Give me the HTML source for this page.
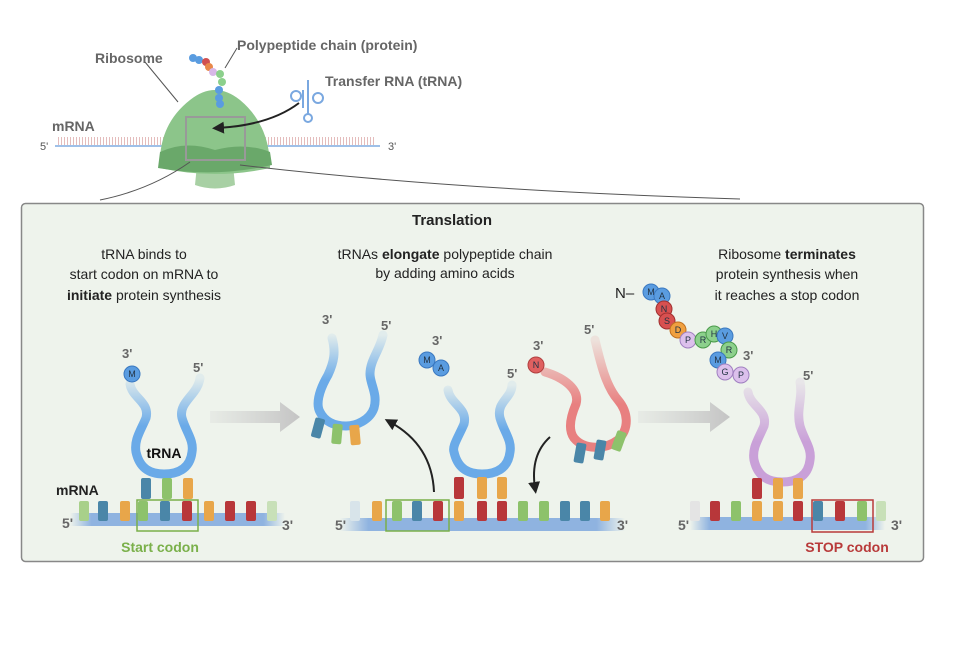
<!DOCTYPE html>
<html><head><meta charset="utf-8"><style>
html,body{margin:0;padding:0;background:#fff;}
svg{display:block;font-family:"Liberation Sans",sans-serif;}
.t{font-size:14px;fill:#222;text-anchor:middle;}
.g{fill:#666;font-weight:bold;font-size:14px;}
.aa{font-size:9px;fill:#234;text-anchor:middle;}
</style></head><body>
<svg width="973" height="669" viewBox="0 0 973 669">
<defs>
<linearGradient id="mr" x1="0" x2="1"><stop offset="0" stop-color="#8fb3e0" stop-opacity="0"/><stop offset="0.1" stop-color="#8fb3e0"/><stop offset="0.9" stop-color="#8fb3e0"/><stop offset="1" stop-color="#8fb3e0" stop-opacity="0"/></linearGradient>
<linearGradient id="bl" x1="0" y1="0" x2="0" y2="1"><stop offset="0" stop-color="#6aaae8" stop-opacity="0.1"/><stop offset="0.5" stop-color="#6aaae8"/></linearGradient>
<linearGradient id="rd" x1="0" y1="0" x2="0" y2="1"><stop offset="0" stop-color="#e88080" stop-opacity="0.15"/><stop offset="0.6" stop-color="#e88080"/></linearGradient>
<linearGradient id="pu" x1="0" y1="0" x2="0" y2="1"><stop offset="0" stop-color="#c9a0d8" stop-opacity="0.15"/><stop offset="0.6" stop-color="#c9a0d8"/></linearGradient>
<linearGradient id="ga" x1="0" x2="1"><stop offset="0" stop-color="#ccc" stop-opacity="0.2"/><stop offset="1" stop-color="#c4c4c4"/></linearGradient>
<marker id="ah" viewBox="0 0 10 10" refX="5" refY="5" markerWidth="6" markerHeight="6" orient="auto"><path d="M0,0L10,5L0,10z" fill="#222"/></marker>
</defs>

<!-- top illustration -->
<line x1="55" y1="146" x2="380" y2="146" stroke="#9fc0e8" stroke-width="2"/>
<line x1="58" y1="141" x2="375" y2="141" stroke="#d9a0a0" stroke-dasharray="1 2" stroke-width="8" opacity="0.7"/>
<text x="40" y="150" font-size="11" fill="#555">5'</text>
<text x="388" y="150" font-size="11" fill="#555">3'</text>
<text x="52" y="131" class="g">mRNA</text>
<text x="95" y="63" class="g">Ribosome</text>
<text x="237" y="50" class="g">Polypeptide chain (protein)</text>
<text x="325" y="86" class="g">Transfer RNA (tRNA)</text>
<path d="M197,165 L195,185 Q215,192 235,185 L233,165z" fill="#a8d0a4"/>
<path d="M160,168 Q158,125 190,100 Q215,80 240,100 Q270,125 270,168 Q215,180 160,168z" fill="#8cc58a"/>
<path d="M160,152 Q185,140 215,150 Q245,142 270,152 L272,165 Q215,178 158,168z" fill="#6aa86a"/>
<rect x="186" y="117" width="59" height="43" fill="none" stroke="#999" stroke-width="2"/>
<line x1="145" y1="62" x2="178" y2="102" stroke="#555" stroke-width="1"/>
<line x1="237" y1="48" x2="225" y2="68" stroke="#555" stroke-width="1"/>
<g>
<circle cx="193" cy="58" r="4" fill="#5a9ce0"/><circle cx="199" cy="60" r="4" fill="#5a9ce0"/>
<circle cx="206" cy="62" r="4" fill="#d05050"/><circle cx="209" cy="67" r="4" fill="#e8884a"/>
<circle cx="213" cy="72" r="4" fill="#d8b8e8"/><circle cx="220" cy="74" r="4" fill="#8cd08c"/>
<circle cx="222" cy="82" r="4" fill="#8cd08c"/><circle cx="219" cy="90" r="4" fill="#5a9ce0"/>
<circle cx="219" cy="98" r="4" fill="#5a9ce0"/><circle cx="220" cy="104" r="4" fill="#5a9ce0"/>
</g>
<g stroke="#7aa8e0" stroke-width="2" fill="none">
<line x1="308" y1="80" x2="308" y2="115"/><line x1="303" y1="90" x2="303" y2="108"/>
<circle cx="296" cy="96" r="5"/><circle cx="318" cy="98" r="5"/><circle cx="308" cy="118" r="4"/>
</g>
<path d="M299,103 Q270,125 218,128" stroke="#222" stroke-width="2" fill="none" marker-end="url(#ah)"/>
<path d="M190,162 Q150,190 100,200" stroke="#555" fill="none"/>
<path d="M240,165 Q450,190 740,199" stroke="#555" fill="none"/>

<!-- panel -->
<rect x="21.5" y="203.5" width="902" height="358" rx="4" fill="#eef3ec" stroke="#888" stroke-width="1.5"/>
<text x="452" y="225" font-size="15" font-weight="bold" text-anchor="middle" fill="#222">Translation</text>
<text class="t" x="144" y="259">tRNA binds to</text>
<text class="t" x="144" y="279">start codon on mRNA to</text>
<text class="t" x="144" y="300"><tspan font-weight="bold">initiate</tspan> protein synthesis</text>
<text class="t" x="445" y="259">tRNAs <tspan font-weight="bold">elongate</tspan> polypeptide chain</text>
<text class="t" x="445" y="278">by adding amino acids</text>
<text class="t" x="787" y="259">Ribosome <tspan font-weight="bold">terminates</tspan></text>
<text class="t" x="787" y="279">protein synthesis when</text>
<text class="t" x="787" y="300">it reaches a stop codon</text>

<!-- gray arrows -->
<path d="M210,411 L280,411 L280,402 L300,417 L280,432 L280,423 L210,423z" fill="url(#ga)"/>
<path d="M638,411 L710,411 L710,402 L730,417 L710,432 L710,423 L638,423z" fill="url(#ga)"/>

<!-- mRNA strips -->
<rect x="70" y="513" width="215" height="13" fill="url(#mr)"/>
<rect x="340" y="518" width="285" height="13" fill="url(#mr)"/>
<rect x="690" y="517" width="195" height="13" fill="url(#mr)"/>
<g font-size="14" font-weight="bold" fill="#666">
<text x="62" y="528">5'</text><text x="282" y="530">3'</text>
<text x="335" y="530">5'</text><text x="617" y="530">3'</text>
<text x="678" y="530">5'</text><text x="891" y="530">3'</text>
</g>
<text x="56" y="495" font-size="14" font-weight="bold" fill="#222">mRNA</text>
<text x="160" y="552" font-size="14" font-weight="bold" fill="#7ab04a" text-anchor="middle">Start codon</text>
<text x="847" y="552" font-size="14" font-weight="bold" fill="#b83a3a" text-anchor="middle">STOP codon</text>

<!-- tRNA loops -->
<g stroke-width="9" fill="none" stroke-linecap="round">
<path d="M130,384 C132,398 150,402 146,418 C140,432 134,440 136,452 C140,470 152,474 164,474 C176,474 190,470 192,452 C194,440 186,432 182,418 C178,402 198,395 200,378" stroke="url(#bl)"/>
<path d="M332,338 C336,352 334,362 328,375 C318,392 316,405 320,412 C326,424 338,426 346,426 C356,426 370,420 374,408 C378,394 370,384 370,374 C370,360 380,350 383,335" stroke="url(#bl)"/>
<path d="M448,390 C450,404 468,408 464,424 C458,438 452,446 454,452 C458,470 470,474 482,474 C494,474 508,470 510,452 C512,440 504,432 500,418 C496,402 512,398 512,385" stroke="url(#bl)"/>
<path d="M545,372 C565,378 580,390 576,404 C570,418 568,430 574,438 C584,450 605,450 618,440 C630,428 628,412 618,400 C605,385 600,360 595,340" stroke="url(#rd)"/>
<path d="M748,392 C750,406 768,410 764,426 C758,440 752,448 754,460 C758,478 770,482 782,482 C794,482 808,478 810,460 C812,448 804,440 800,426 C796,410 803,398 800,382" stroke="url(#pu)"/>
</g>
<text x="164" y="458" font-size="14" font-weight="bold" text-anchor="middle" fill="#111">tRNA</text>

<!-- labels on tRNAs -->
<g font-size="13" font-weight="bold" fill="#666">
<text x="122" y="358">3'</text><text x="193" y="372">5'</text>
<text x="322" y="324">3'</text><text x="381" y="330">5'</text>
<text x="432" y="345">3'</text><text x="507" y="378">5'</text>
<text x="533" y="350">3'</text><text x="584" y="334">5'</text>
<text x="743" y="360">3'</text><text x="803" y="380">5'</text>
</g>

<!-- amino acids -->
<g stroke="#3a78c0" stroke-width="1">
<circle cx="132" cy="374" r="8" fill="#5a9ce0"/>
<circle cx="427" cy="360" r="8" fill="#5a9ce0"/><circle cx="441" cy="368" r="8" fill="#5a9ce0"/>
</g>
<circle cx="536" cy="365" r="8" fill="#e06060" stroke="#b04040"/>
<g class="aa"><text x="132" y="377">M</text><text x="427" y="363">M</text><text x="441" y="371">A</text><text x="536" y="368">N</text></g>

<!-- polypeptide chain right -->
<text x="615" y="298" font-size="15" fill="#222">N–</text>
<g stroke-width="1">
<circle cx="651" cy="292" r="8" fill="#5a9ce0" stroke="#3a78c0"/><circle cx="662" cy="296" r="8" fill="#5a9ce0" stroke="#3a78c0"/>
<circle cx="664" cy="309" r="8" fill="#d85050" stroke="#a03030"/><circle cx="667" cy="321" r="8" fill="#d85050" stroke="#a03030"/>
<circle cx="678" cy="330" r="8" fill="#f0a040" stroke="#c07020"/><circle cx="688" cy="340" r="8" fill="#dcc0ec" stroke="#a080c0"/>
<circle cx="703" cy="340" r="8" fill="#8cd08c" stroke="#4a9a4a"/><circle cx="714" cy="334" r="8" fill="#8cd08c" stroke="#4a9a4a"/>
<circle cx="725" cy="336" r="8" fill="#5a9ce0" stroke="#3a78c0"/><circle cx="729" cy="350" r="8" fill="#8cd08c" stroke="#4a9a4a"/>
<circle cx="718" cy="360" r="8" fill="#5a9ce0" stroke="#3a78c0"/><circle cx="725" cy="372" r="8" fill="#dcc0ec" stroke="#a080c0"/>
<circle cx="741" cy="375" r="8" fill="#dcc0ec" stroke="#a080c0"/>
</g>
<g class="aa">
<text x="651" y="295">M</text><text x="662" y="299">A</text><text x="664" y="312">N</text><text x="667" y="324">S</text><text x="678" y="333">D</text><text x="688" y="343">P</text><text x="703" y="343">R</text><text x="714" y="337">H</text><text x="725" y="339">V</text><text x="729" y="353">R</text><text x="718" y="363">M</text><text x="725" y="375">G</text><text x="741" y="378">P</text>
</g>

<!-- curved black arrows -->
<path d="M434,492 Q432,445 390,422" stroke="#222" stroke-width="2" fill="none" marker-end="url(#ah)"/>
<path d="M550,437 Q530,455 535,488" stroke="#222" stroke-width="2" fill="none" marker-end="url(#ah)"/>

<!-- nucleotides -->
<rect x="79" y="501" width="10" height="20" rx="2" fill="#a8d08a"/>
<rect x="98" y="501" width="10" height="20" rx="2" fill="#4a86a8"/>
<rect x="120" y="501" width="10" height="20" rx="2" fill="#e8a64a"/>
<rect x="138" y="501" width="10" height="20" rx="2" fill="#8dc26b"/>
<rect x="160" y="501" width="10" height="20" rx="2" fill="#4a86a8"/>
<rect x="182" y="501" width="10" height="20" rx="2" fill="#b8373a"/>
<rect x="204" y="501" width="10" height="20" rx="2" fill="#e8a64a"/>
<rect x="225" y="501" width="10" height="20" rx="2" fill="#b8373a"/>
<rect x="246" y="501" width="10" height="20" rx="2" fill="#b8373a"/>
<rect x="267" y="501" width="10" height="20" rx="2" fill="#c8e0b8"/>
<rect x="141" y="478" width="10" height="21" rx="2" fill="#4a86a8"/>
<rect x="162" y="478" width="10" height="21" rx="2" fill="#8dc26b"/>
<rect x="183" y="478" width="10" height="21" rx="2" fill="#e8a64a"/>
<rect x="137" y="500" width="61" height="31" fill="none" stroke="#7ab04a" stroke-width="1.5"/>
<rect x="313" y="418" width="10" height="20" rx="2" fill="#4a86a8" transform="rotate(15 318 428)"/>
<rect x="332" y="424" width="10" height="20" rx="2" fill="#8dc26b" transform="rotate(5 337 434)"/>
<rect x="350" y="425" width="10" height="20" rx="2" fill="#e8a64a" transform="rotate(-5 355 435)"/>
<rect x="350" y="501" width="10" height="20" rx="2" fill="#d8e4ea"/>
<rect x="372" y="501" width="10" height="20" rx="2" fill="#e8a64a"/>
<rect x="392" y="501" width="10" height="20" rx="2" fill="#8dc26b"/>
<rect x="412" y="501" width="10" height="20" rx="2" fill="#4a86a8"/>
<rect x="433" y="501" width="10" height="20" rx="2" fill="#b8373a"/>
<rect x="454" y="501" width="10" height="20" rx="2" fill="#e8a64a"/>
<rect x="477" y="501" width="10" height="20" rx="2" fill="#b8373a"/>
<rect x="497" y="501" width="10" height="20" rx="2" fill="#b8373a"/>
<rect x="518" y="501" width="10" height="20" rx="2" fill="#8dc26b"/>
<rect x="539" y="501" width="10" height="20" rx="2" fill="#8dc26b"/>
<rect x="560" y="501" width="10" height="20" rx="2" fill="#4a86a8"/>
<rect x="580" y="501" width="10" height="20" rx="2" fill="#4a86a8"/>
<rect x="600" y="501" width="10" height="20" rx="2" fill="#e8a64a"/>
<rect x="454" y="477" width="10" height="22" rx="2" fill="#b8373a"/>
<rect x="477" y="477" width="10" height="22" rx="2" fill="#e8a64a"/>
<rect x="497" y="477" width="10" height="22" rx="2" fill="#e8a64a"/>
<rect x="386" y="500" width="63" height="31" fill="none" stroke="#7ab04a" stroke-width="1.5"/>
<rect x="575" y="443" width="10" height="20" rx="2" fill="#4a86a8" transform="rotate(10 580 453)"/>
<rect x="595" y="440" width="10" height="20" rx="2" fill="#4a86a8" transform="rotate(10 600 450)"/>
<rect x="614" y="431" width="10" height="20" rx="2" fill="#8dc26b" transform="rotate(20 619 441)"/>
<rect x="690" y="501" width="10" height="20" rx="2" fill="#e4e4e4"/>
<rect x="710" y="501" width="10" height="20" rx="2" fill="#b8373a"/>
<rect x="731" y="501" width="10" height="20" rx="2" fill="#8dc26b"/>
<rect x="752" y="501" width="10" height="20" rx="2" fill="#e8a64a"/>
<rect x="773" y="501" width="10" height="20" rx="2" fill="#e8a64a"/>
<rect x="793" y="501" width="10" height="20" rx="2" fill="#b8373a"/>
<rect x="813" y="501" width="10" height="20" rx="2" fill="#4a86a8"/>
<rect x="835" y="501" width="10" height="20" rx="2" fill="#b8373a"/>
<rect x="857" y="501" width="10" height="20" rx="2" fill="#8dc26b"/>
<rect x="876" y="501" width="10" height="20" rx="2" fill="#c8e0b8"/>
<rect x="752" y="478" width="10" height="21" rx="2" fill="#b8373a"/>
<rect x="773" y="478" width="10" height="21" rx="2" fill="#e8a64a"/>
<rect x="793" y="478" width="10" height="21" rx="2" fill="#e8a64a"/>
<rect x="812" y="500" width="61" height="32" fill="none" stroke="#b83a3a" stroke-width="1.5"/>
</svg>
</body></html>
